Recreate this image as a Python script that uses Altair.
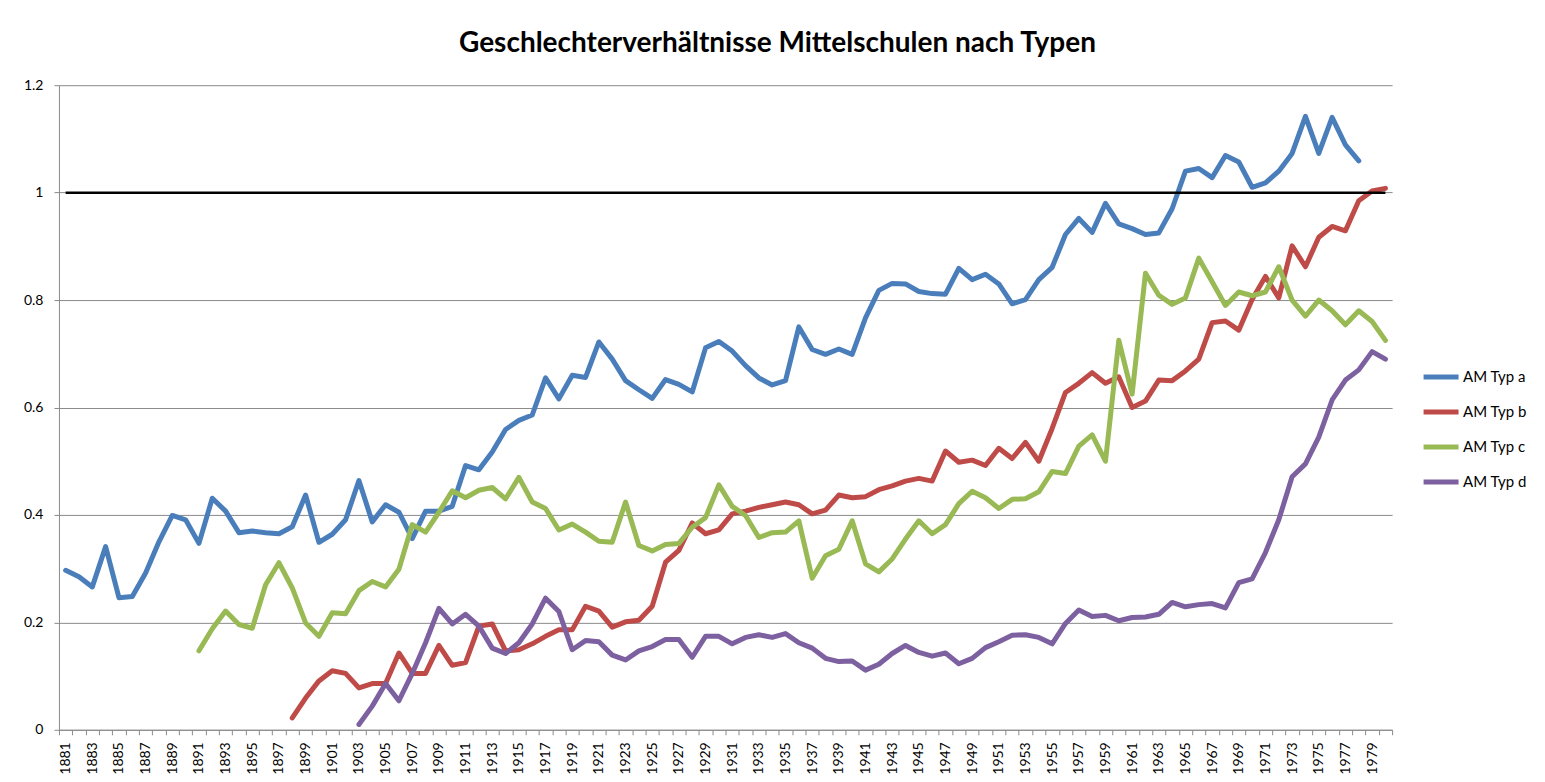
import altair as alt
import pandas as pd

years = list(range(1881, 1981))

# AM Typ a: 1881-1978
typ_a = [0.297, 0.285, 0.266, 0.341, 0.246, 0.248, 0.292, 0.350, 0.399, 0.391,
         0.347, 0.431, 0.407, 0.367, 0.370, 0.367, 0.365, 0.378, 0.437, 0.349,
         0.364, 0.391, 0.464, 0.387, 0.419, 0.405, 0.356, 0.407, 0.407, 0.416,
         0.492, 0.484, 0.517, 0.559, 0.576, 0.586, 0.655, 0.616, 0.660, 0.656,
         0.722, 0.690, 0.650, 0.633, 0.617, 0.652, 0.643, 0.629, 0.711, 0.723,
         0.705, 0.678, 0.655, 0.642, 0.650, 0.750, 0.708, 0.699, 0.709, 0.699,
         0.767, 0.818, 0.831, 0.830, 0.816, 0.812, 0.811, 0.859, 0.838, 0.848,
         0.830, 0.793, 0.801, 0.838, 0.861, 0.922, 0.952, 0.926, 0.980, 0.942,
         0.933, 0.922, 0.925, 0.970, 1.040, 1.045, 1.028, 1.069, 1.057, 1.010,
         1.018, 1.040, 1.073, 1.142, 1.073, 1.140, 1.089, 1.059]

# AM Typ b: 1898-1980
typ_b = [0.022, 0.059, 0.091, 0.110, 0.105, 0.078, 0.086, 0.086, 0.143, 0.105,
         0.105, 0.157, 0.120, 0.125, 0.193, 0.197, 0.147, 0.149, 0.160, 0.174,
         0.186, 0.186, 0.230, 0.221, 0.191, 0.201, 0.204, 0.230, 0.312, 0.334,
         0.385, 0.365, 0.372, 0.402, 0.407, 0.414, 0.419, 0.424, 0.419, 0.402,
         0.409, 0.437, 0.432, 0.434, 0.447, 0.454, 0.463, 0.468, 0.463, 0.519,
         0.498, 0.502, 0.492, 0.524, 0.505, 0.535, 0.500, 0.561, 0.628, 0.645,
         0.665, 0.645, 0.657, 0.600, 0.612, 0.651, 0.650, 0.668, 0.690, 0.758,
         0.761, 0.744, 0.801, 0.844, 0.804, 0.901, 0.862, 0.917, 0.937, 0.929,
         0.985, 1.003, 1.008]

# AM Typ c: 1891-1980
typ_c = [0.147, 0.188, 0.221, 0.196, 0.189, 0.270, 0.311, 0.264, 0.199, 0.174,
         0.218, 0.216, 0.259, 0.276, 0.266, 0.299, 0.382, 0.368, 0.405, 0.445,
         0.432, 0.446, 0.451, 0.430, 0.470, 0.424, 0.412, 0.372, 0.383, 0.368,
         0.351, 0.349, 0.424, 0.343, 0.333, 0.345, 0.347, 0.377, 0.395, 0.456,
         0.416, 0.399, 0.358, 0.367, 0.368, 0.389, 0.282, 0.324, 0.336, 0.389,
         0.309, 0.294, 0.318, 0.355, 0.389, 0.365, 0.382, 0.421, 0.444, 0.432,
         0.412, 0.429, 0.430, 0.443, 0.481, 0.477, 0.528, 0.549, 0.500, 0.725,
         0.625, 0.850, 0.809, 0.792, 0.804, 0.878, 0.834, 0.790, 0.815, 0.808,
         0.815, 0.862, 0.800, 0.770, 0.800, 0.780, 0.754, 0.780, 0.760, 0.725]

# AM Typ d: 1903-1980
typ_d = [0.010, 0.044, 0.086, 0.054, 0.105, 0.162, 0.226, 0.197, 0.215, 0.193,
         0.152, 0.142, 0.162, 0.197, 0.245, 0.220, 0.149, 0.166, 0.164, 0.139,
         0.130, 0.147, 0.155, 0.168, 0.168, 0.135, 0.174, 0.174, 0.160, 0.172,
         0.177, 0.172, 0.179, 0.162, 0.152, 0.133, 0.127, 0.128, 0.111, 0.122,
         0.142, 0.157, 0.144, 0.137, 0.143, 0.123, 0.133, 0.153, 0.164, 0.176,
         0.177, 0.172, 0.160, 0.198, 0.223, 0.211, 0.213, 0.203, 0.209, 0.210,
         0.215, 0.237, 0.229, 0.233, 0.235, 0.227, 0.274, 0.281, 0.330, 0.391,
         0.471, 0.495, 0.545, 0.614, 0.651, 0.670, 0.704, 0.690]

series_names = ["AM Typ a", "AM Typ b", "AM Typ c", "AM Typ d"]
series_start = [1881, 1898, 1891, 1903]
series_colors = ["#4A7EBB", "#BE4B48", "#98B954", "#7D60A0"]
ref_level = [1.0] * len(years)
y_ticks = [0, 0.2, 0.4, 0.6, 0.8, 1.0, 1.2]
title_text = "Geschlechterverhältnisse Mittelschulen nach Typen"

rows = []
for name, start, vals in zip(series_names, series_start, [typ_a, typ_b, typ_c, typ_d]):
    for i, v in enumerate(vals):
        rows.append({"year": start + i, "series": name, "value": v})
df = pd.DataFrame(rows)
ref_df = pd.DataFrame({"year": years, "value": ref_level})

FONT = "Lato"
AXIS_GRAY = "#8a8a8a"

x_scale = alt.Scale(type="band", domain=years, paddingInner=0, paddingOuter=0)
y_scale = alt.Scale(domain=[0, 1.2], nice=False)

x_axis = alt.Axis(
    labelAngle=-90, labelExpr="toNumber(datum.value) % 2 == 1 ? datum.label : ''",
    labelOverlap=False, labelFont=FONT, labelFontSize=14, labelColor="black",
    labelPadding=7, tickBand="extent", ticks=True, tickSize=5, tickColor=AXIS_GRAY,
    domainColor=AXIS_GRAY, grid=False, title=None,
)
y_axis = alt.Axis(
    values=y_ticks, format="~g", grid=True, gridColor=AXIS_GRAY, gridWidth=1,
    tickSize=5, tickColor=AXIS_GRAY, domainColor=AXIS_GRAY, labelPadding=11,
    labelFont=FONT, labelFontSize=14, labelColor="black", title=None,
)

lines = alt.Chart(df).mark_line(strokeWidth=5, strokeCap="round", strokeJoin="round").encode(
    x=alt.X("year:O", scale=x_scale, axis=x_axis, title=None),
    y=alt.Y("value:Q", scale=y_scale, axis=y_axis, title=None),
    color=alt.Color(
        "series:N",
        scale=alt.Scale(domain=series_names, range=series_colors),
        legend=alt.Legend(
            title=None, orient="none", legendX=1363, legendY=272,
            symbolType="stroke", symbolSize=1225, symbolStrokeWidth=5,
            labelFont=FONT, labelFontSize=15, labelColor="black",
            labelOffset=2, rowPadding=5,
        ),
    ),
)

ref = alt.Chart(ref_df).mark_line(color="black", strokeWidth=2.5).encode(
    x=alt.X("year:O", scale=x_scale, title=None),
    y=alt.Y("value:Q", scale=y_scale, title=None),
)

chart = alt.layer(lines, ref).properties(
    width=1334, height=645,
    autosize=alt.AutoSizeParams(type="none"),
    padding={"left": 51, "top": 77, "right": 145, "bottom": 50},
    title=alt.TitleParams(
        text=title_text, font=FONT, fontSize=28, fontWeight="bold",
        anchor="middle", dx=52, offset=20, color="black",
    ),
).configure_view(stroke="transparent")

chart.save("out.html", embed_options={"renderer": "svg", "actions": False})
